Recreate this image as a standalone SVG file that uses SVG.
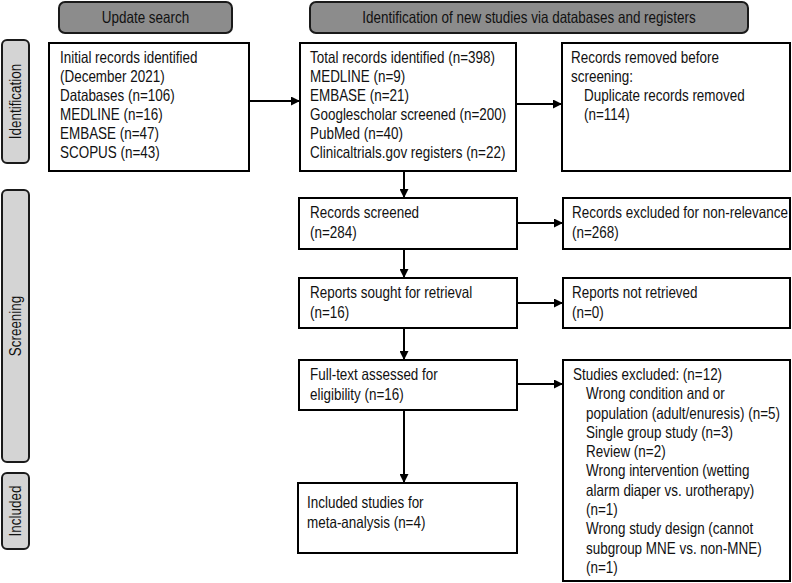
<svg xmlns="http://www.w3.org/2000/svg" width="792" height="583" viewBox="0 0 792 583">
<style>
.box{fill:#fff;stroke:#000;stroke-width:2}
.hdr{fill:#8c8c8c;stroke:#1a1a1a;stroke-width:2}
.side{fill:#d4d4d4;stroke:#1a1a1a;stroke-width:2}
text{font-family:"Liberation Sans",Arial,sans-serif;font-size:16.5px;fill:#111}
.c{text-anchor:middle}
.conn{stroke:#000;stroke-width:2;fill:none;marker-end:url(#ah)}
</style>
<defs>
<marker id="ah" viewBox="0 0 10 10" refX="10" refY="5" markerWidth="4.5" markerHeight="4.5" markerUnits="strokeWidth" orient="auto">
<path d="M0,0 L10,5 L0,10 z" fill="#000"/>
</marker>
</defs>
<rect width="792" height="583" fill="#fff"/>

<g id="hdr-update">
<rect class="hdr" x="59" y="2" width="173" height="31" rx="6"/>
<g transform="translate(145.5 23) scale(0.815 1)"><text class="c" x="0" y="0">Update search</text></g>
</g>
<g id="hdr-new">
<rect class="hdr" x="310" y="2" width="438" height="31" rx="6"/>
<g transform="translate(529 23) scale(0.815 1)"><text class="c" x="0" y="0">Identification of new studies via databases and registers</text></g>
</g>

<g id="side-identification">
<rect class="side" x="2" y="40" width="27" height="123" rx="5"/>
<g transform="translate(21 101.5) rotate(-90) scale(0.815 1)"><text class="c" x="0" y="0">Identification</text></g>
</g>
<g id="side-screening">
<rect class="side" x="2" y="190" width="27" height="272" rx="5"/>
<g transform="translate(21 326) rotate(-90) scale(0.815 1)"><text class="c" x="0" y="0">Screening</text></g>
</g>
<g id="side-included">
<rect class="side" x="2" y="473" width="27" height="76" rx="5"/>
<g transform="translate(21 511) rotate(-90) scale(0.815 1)"><text class="c" x="0" y="0">Included</text></g>
</g>

<g id="initial">
<rect class="box" x="49" y="43" width="200" height="128"/>
<g transform="translate(60 0) scale(0.815 1)">
<text x="0" y="63">Initial records identified</text>
<text x="0" y="82">(December 2021)</text>
<text x="0" y="101">Databases (n=106)</text>
<text x="0" y="120">MEDLINE (n=16)</text>
<text x="0" y="139">EMBASE (n=47)</text>
<text x="0" y="158">SCOPUS (n=43)</text>
</g>
</g>

<g id="total">
<rect class="box" x="300" y="43" width="216" height="128"/>
<g transform="translate(310 0) scale(0.815 1)">
<text x="0" y="63">Total records identified (n=398)</text>
<text x="0" y="82">MEDLINE (n=9)</text>
<text x="0" y="101">EMBASE (n=21)</text>
<text x="0" y="120">Googlescholar screened (n=200)</text>
<text x="0" y="139">PubMed (n=40)</text>
<text x="0" y="158">Clinicaltrials.gov registers (n=22)</text>
</g>
</g>

<g id="removed">
<rect class="box" x="562" y="43" width="228" height="128"/>
<g transform="translate(571 0) scale(0.815 1)">
<text x="0" y="63">Records removed before</text>
<text x="0" y="82">screening:</text>
<text x="16" y="101">Duplicate records removed</text>
<text x="16" y="120">(n=114)</text>
</g>
</g>

<g id="screened">
<rect class="box" x="299" y="198" width="218" height="51"/>
<g transform="translate(310 0) scale(0.815 1)">
<text x="0" y="218">Records screened</text>
<text x="0" y="238">(n=284)</text>
</g>
</g>

<g id="excluded">
<rect class="box" x="563" y="198" width="227" height="51"/>
<g transform="translate(572 0) scale(0.815 1)">
<text x="0" y="218">Records excluded for non-relevance</text>
<text x="0" y="238">(n=268)</text>
</g>
</g>

<g id="sought">
<rect class="box" x="299" y="278" width="218" height="50"/>
<g transform="translate(310 0) scale(0.815 1)">
<text x="0" y="298">Reports sought for retrieval</text>
<text x="0" y="318">(n=16)</text>
</g>
</g>

<g id="notretrieved">
<rect class="box" x="563" y="278" width="227" height="50"/>
<g transform="translate(572 0) scale(0.815 1)">
<text x="0" y="298">Reports not retrieved</text>
<text x="0" y="318">(n=0)</text>
</g>
</g>

<g id="fulltext">
<rect class="box" x="299" y="360" width="218" height="50"/>
<g transform="translate(310 0) scale(0.815 1)">
<text x="0" y="380">Full-text assessed for</text>
<text x="0" y="400">eligibility (n=16)</text>
</g>
</g>

<g id="studiesexcluded">
<rect class="box" x="563" y="360" width="227" height="221"/>
<g transform="translate(573 0) scale(0.815 1)">
<text x="0" y="380">Studies excluded: (n=12)</text>
<text x="16" y="399.3">Wrong condition and or</text>
<text x="16" y="418.6">population (adult/enuresis) (n=5)</text>
<text x="16" y="437.9">Single group study (n=3)</text>
<text x="16" y="457.2">Review (n=2)</text>
<text x="16" y="476.5">Wrong intervention (wetting</text>
<text x="16" y="495.8">alarm diaper vs. urotherapy)</text>
<text x="16" y="515.1">(n=1)</text>
<text x="16" y="534.4">Wrong study design (cannot</text>
<text x="16" y="553.7">subgroup MNE vs. non-MNE)</text>
<text x="16" y="573">(n=1)</text>
</g>
</g>

<g id="included">
<rect class="box" x="298" y="483" width="219" height="70"/>
<g transform="translate(307 0) scale(0.815 1)">
<text x="0" y="508">Included studies for</text>
<text x="0" y="528">meta-analysis (n=4)</text>
</g>
</g>

<g id="connectors">
<line class="conn" x1="249" y1="101" x2="300" y2="101"/>
<line class="conn" x1="516" y1="104" x2="562" y2="104"/>
<line class="conn" x1="404" y1="171" x2="404" y2="198"/>
<line class="conn" x1="517" y1="223" x2="563" y2="223"/>
<line class="conn" x1="404" y1="249" x2="404" y2="278"/>
<line class="conn" x1="517" y1="303" x2="563" y2="303"/>
<line class="conn" x1="404" y1="328" x2="404" y2="360"/>
<line class="conn" x1="517" y1="384" x2="563" y2="384"/>
<line class="conn" x1="404" y1="410" x2="404" y2="483"/>
</g>
</svg>
